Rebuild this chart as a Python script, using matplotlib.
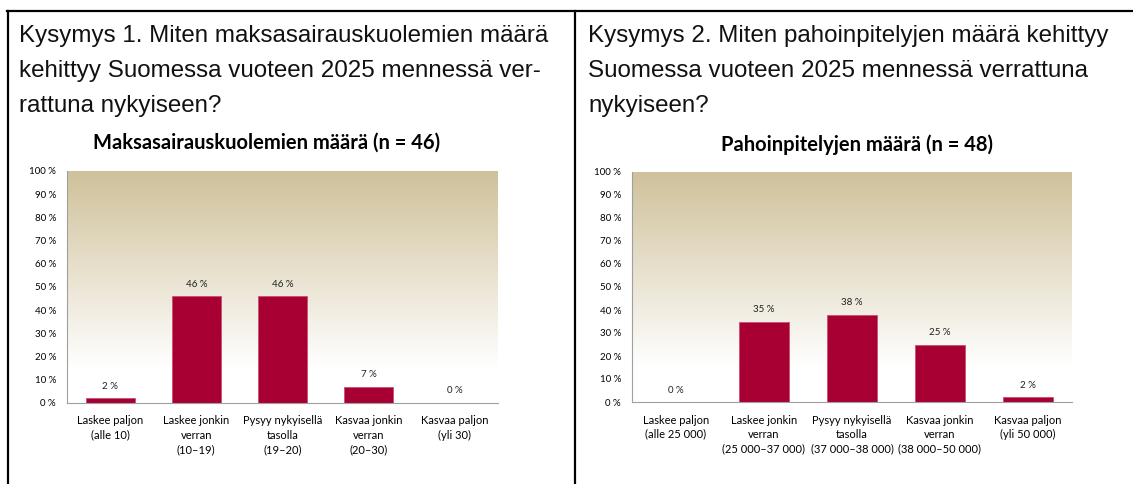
import numpy as np
import matplotlib
matplotlib.use("Agg")
import matplotlib.pyplot as plt
from matplotlib.colors import LinearSegmentedColormap
from matplotlib.lines import Line2D

# --- data ---
q1_lines = [
    "Kysymys 1. Miten maksasairauskuolemien määrä",
    "kehittyy Suomessa vuoteen 2025 mennessä ver-",
    "rattuna nykyiseen?",
]
q2_lines = [
    "Kysymys 2. Miten pahoinpitelyjen määrä kehittyy",
    "Suomessa vuoteen 2025 mennessä verrattuna",
    "nykyiseen?",
]
title1 = "Maksasairauskuolemien määrä (n = 46)"
title2 = "Pahoinpitelyjen määrä (n = 48)"

cats1 = [
    "Laskee paljon\n(alle 10)",
    "Laskee jonkin\nverran\n(10–19)",
    "Pysyy nykyisellä\ntasolla\n(19–20)",
    "Kasvaa jonkin\nverran\n(20–30)",
    "Kasvaa paljon\n(yli 30)",
]
vals1 = [2, 46, 46, 7, 0]

cats2 = [
    "Laskee paljon\n(alle 25 000)",
    "Laskee jonkin\nverran\n(25 000–37 000)",
    "Pysyy nykyisellä\ntasolla\n(37 000–38 000)",
    "Kasvaa jonkin\nverran\n(38 000–50 000)",
    "Kasvaa paljon\n(yli 50 000)",
]
vals2 = [0, 35, 38, 25, 2]

yticks = list(range(0, 101, 10))

BAR = "#A80032"
CHART_FONT = ["Lato", "DejaVu Sans"]
Q_FONT = ["Liberation Sans", "DejaVu Sans"]

W, H = 1133, 484
fig = plt.figure(figsize=(W / 100, H / 100), dpi=100)

grad = LinearSegmentedColormap.from_list(
    "bg", [(0.0, "#FFFFFF"), (0.15, "#FFFFFF"), (1.0, "#CFC19A")]
)


def px(x, y):
    return x / W, 1 - y / H


def bar_chart(rect, cats, vals, title, title_xy):
    ax = fig.add_axes(rect)
    x = np.arange(len(cats))
    ax.set_xlim(-0.5, len(cats) - 0.5)
    ax.set_ylim(0, 100)
    g = np.linspace(0, 1, 256).reshape(-1, 1)
    ax.imshow(g, cmap=grad, origin="lower", aspect="auto",
              extent=[-0.5, len(cats) - 0.5, 0, 100], zorder=0)
    bars = ax.bar(x, vals, width=0.57, color=BAR, edgecolor="#C85070",
                  linewidth=0.6, zorder=2)
    for b, v in zip(bars, vals):
        ax.text(b.get_x() + b.get_width() / 2, v + 5.2, f"{v} %",
                ha="center", va="center", fontsize=7, family=CHART_FONT,
                color="#202020")
    ax.set_yticks(yticks)
    ax.set_yticklabels([f"{t} %" for t in yticks], family=CHART_FONT,
                       fontsize=7)
    ax.set_xticks(x)
    ax.set_xticklabels(cats, family=CHART_FONT, fontsize=8, linespacing=1.35)
    ax.tick_params(axis="both", length=0)
    ax.tick_params(axis="y", pad=8)
    ax.tick_params(axis="x", pad=9)
    for s in ("top", "right"):
        ax.spines[s].set_visible(False)
    ax.spines["left"].set_color("#A0A0A0")
    ax.spines["bottom"].set_color("#A0A0A0")
    fx, fy = px(*title_xy)
    fig.text(fx, fy, title, ha="center", va="center", fontsize=14.5,
             fontweight="bold", family=CHART_FONT)
    return ax


bar_chart([67 / W, 1 - 403 / H, 431 / W, 232 / H], cats1, vals1, title1,
          (267, 143))
bar_chart([632 / W, 1 - 402 / H, 440 / W, 230 / H], cats2, vals2, title2,
          (857, 145))

# question texts
for lines, x0 in ((q1_lines, 19), (q2_lines, 588)):
    for i, line in enumerate(lines):
        fx, fy = px(x0, 36 + i * 35)
        fig.text(fx, fy, line, ha="left", va="center", fontsize=17.4,
                 family=Q_FONT, color="#111111")

# table borders
lw = 1.6
fig.add_artist(Line2D([7 / W, 1], [1 - 11 / H] * 2, color="black", lw=lw,
                      transform=fig.transFigure))
fig.add_artist(Line2D([7.5 / W] * 2, [0, 1 - 11 / H], color="black", lw=lw,
                      transform=fig.transFigure))
fig.add_artist(Line2D([575 / W] * 2, [0, 1 - 11 / H], color="black", lw=lw,
                      transform=fig.transFigure))

fig.savefig("out.png", dpi=100)
